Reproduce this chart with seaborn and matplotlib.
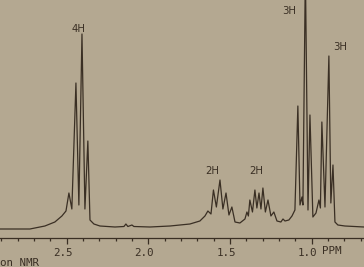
import matplotlib
matplotlib.use("Agg")
import matplotlib.pyplot as plt
import matplotlib.transforms as mtransforms
from matplotlib.ticker import MultipleLocator
import seaborn as sns
import pandas as pd

ppm = [2.908, 2.725, 2.633, 2.572, 2.529, 2.504, 2.486, 2.468, 2.443, 2.425,
       2.406, 2.388, 2.370, 2.357, 2.333, 2.296, 2.204, 2.149, 2.137, 2.125,
       2.100, 2.088, 1.990, 1.867, 1.745, 1.684, 1.653, 1.635, 1.616, 1.601,
       1.583, 1.561, 1.543, 1.524, 1.506, 1.488, 1.469, 1.439, 1.408, 1.396,
       1.387, 1.378, 1.362, 1.347, 1.335, 1.322, 1.310, 1.298, 1.283, 1.267,
       1.249, 1.231, 1.212, 1.188, 1.175, 1.163, 1.139, 1.120, 1.102, 1.084,
       1.071, 1.059, 1.053, 1.038, 1.022, 1.010, 0.992, 0.973, 0.955, 0.946,
       0.937, 0.918, 0.894, 0.882, 0.869, 0.857, 0.839, 0.796, 0.679]
intensity = [9, 9, 12, 16, 22, 27, 45, 29, 155, 33,
             204, 29, 97, 18, 14, 12, 11, 11.5, 14, 11.5,
             13, 11.5, 11, 12, 14, 17, 22, 27, 24, 48,
             31, 58, 29, 45, 23, 31, 16, 15, 19, 26,
             22, 38, 26, 48, 30, 45, 29, 50, 26, 38,
             22, 26, 17, 16, 19, 17, 18, 22, 28, 132,
             33, 41, 33, 268, 28, 123, 21, 25, 38, 30,
             116, 31, 182, 35, 73, 16, 13, 12, 11]

# Integration labels: text, ppm position, intensity position
int_labels = ["4H", "2H", "2H", "3H", "3H"]
int_ppm = [2.425, 1.610, 1.338, 1.139, 0.823]
int_y = [209.5, 66.5, 66.5, 226.5, 190.5]

major_ticks = [2.5, 2.0, 1.5, 1.0]
major_labels = ["2.5", "2.0", "1.5", "1.0"]

BG = "#b4a891"
INK = "#3a2f24"
MONO = ["DejaVu Sans Mono"]

sns.set_theme(style="white")
plt.rcParams["font.family"] = ["DejaVu Sans"]

fig = plt.figure(figsize=(3.64, 2.67), dpi=100, facecolor=BG)
ax = fig.add_axes([0, 29 / 267, 1, 238 / 267])
ax.set_facecolor(BG)

df = pd.DataFrame({"ppm": ppm, "intensity": intensity})
sns.lineplot(data=df, x="ppm", y="intensity", sort=False, estimator=None,
             color=INK, linewidth=0.9, ax=ax)

ax.set_xlim(2.908, 0.679)
ax.set_ylim(0, 238)
for s in ["top", "left", "right"]:
    ax.spines[s].set_visible(False)
ax.spines["bottom"].set_color(INK)
ax.spines["bottom"].set_linewidth(0.9)
ax.set_xlabel("")
ax.set_ylabel("")
ax.set_yticks([])

ax.set_xticks(major_ticks)
ax.set_xticklabels(major_labels, fontfamily=MONO, fontsize=7.8, color=INK)
ax.xaxis.set_minor_locator(MultipleLocator(0.1))
ax.tick_params(axis="x", which="major", direction="out", length=4, width=0.9,
               color=INK, pad=3, bottom=True)
ax.tick_params(axis="x", which="minor", direction="out", length=2.4, width=0.9,
               color=INK, bottom=True)
shift = mtransforms.ScaledTranslation(-4 / 100, 0, fig.dpi_scale_trans)
for lab in ax.get_xticklabels():
    lab.set_transform(lab.get_transform() + shift)

for t, xp, yp in zip(int_labels, int_ppm, int_y):
    ax.text(xp, yp, t, ha="center", va="center", fontsize=7.3, color=INK,
            family=["DejaVu Sans"])

fig.text(322 / 364, 1 - 251 / 267, "PPM", ha="left", va="center",
         fontsize=7.8, color=INK, family=MONO)
fig.text(0.5 / 364, 1 - 263 / 267, "on NMR", ha="left", va="center",
         fontsize=7.8, color=INK, family=MONO)

fig.savefig("out.png", dpi=100, facecolor=BG)
